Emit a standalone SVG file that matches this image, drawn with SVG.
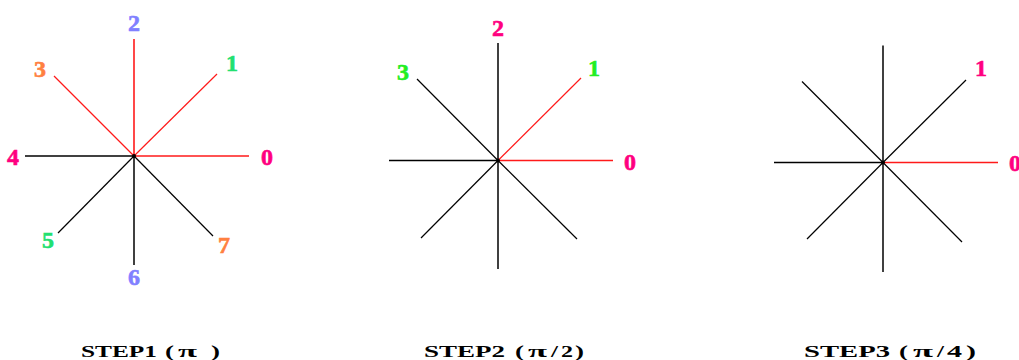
<svg xmlns="http://www.w3.org/2000/svg" width="1019" height="360" viewBox="0 0 1019 360">
<style>
.k{stroke:#000;stroke-width:1.5;fill:none}
.r{stroke:#ff1a1a;stroke-width:1.6;fill:none}
.d{stroke-width:1.2}
.lb{font-family:"Liberation Serif",serif;font-weight:bold;font-size:24px;text-anchor:middle;stroke-width:0.6}
.t{font-family:"Liberation Serif",serif;font-weight:bold;font-size:17px;fill:#000}
.mg{fill:#ff0080;stroke:#ff0080}.bl{fill:#8080ff;stroke:#8080ff}.gr{fill:#22e070;stroke:#22e070}.or{fill:#ff8040;stroke:#ff8040}.g2{fill:#22ee22;stroke:#22ee22}
</style>
<rect width="1019" height="360" fill="#fff"/>
<g id="step1">
  <g id="step1-connectors">
    <line class="k" x1="134" y1="156" x2="25" y2="156"/>
    <line class="k d" x1="134" y1="156" x2="58" y2="233"/>
    <line class="k" x1="134" y1="156" x2="134" y2="265"/>
    <line class="k d" x1="134" y1="156" x2="213" y2="236"/>
    <line class="r" x1="134" y1="156" x2="249" y2="156"/>
    <line class="r d" x1="134" y1="156" x2="217" y2="74"/>
    <line class="r" x1="134" y1="156" x2="134" y2="39"/>
    <line class="r d" x1="134" y1="156" x2="54" y2="76"/>
    <circle cx="134" cy="156" r="2" fill="#000"/>
  </g>
  <text class="lb mg" x="267" y="165">0</text>
  <text class="lb gr" x="232" y="71">1</text>
  <text class="lb bl" x="134" y="31">2</text>
  <text class="lb or" x="40" y="77">3</text>
  <text class="lb mg" x="13" y="165">4</text>
  <text class="lb gr" x="48" y="248">5</text>
  <text class="lb bl" x="134" y="285">6</text>
  <text class="lb or" x="224" y="253">7</text>
  <text class="t" y="357"><tspan x="81" textLength="76" lengthAdjust="spacingAndGlyphs">STEP1</tspan><tspan x="165" textLength="9" lengthAdjust="spacingAndGlyphs">(</tspan><tspan x="178" textLength="19" lengthAdjust="spacingAndGlyphs">π</tspan><tspan x="211" textLength="9" lengthAdjust="spacingAndGlyphs">)</tspan></text>
</g>
<g id="step2">
  <g id="step2-connectors">
    <line class="k" x1="498" y1="160.5" x2="389" y2="160.5"/>
    <line class="k d" x1="498" y1="160.5" x2="421" y2="238"/>
    <line class="k" x1="498" y1="160.5" x2="498" y2="269"/>
    <line class="k d" x1="498" y1="160.5" x2="577" y2="239"/>
    <line class="k" x1="498" y1="160.5" x2="498" y2="43"/>
    <line class="k d" x1="498" y1="160.5" x2="417" y2="79"/>
    <line class="r" x1="498" y1="160.5" x2="613" y2="160.5"/>
    <line class="r d" x1="498" y1="160.5" x2="581" y2="78"/>
    <circle cx="498" cy="160.5" r="2" fill="#000"/>
  </g>
  <text class="lb mg" x="630" y="170">0</text>
  <text class="lb g2" x="594" y="76">1</text>
  <text class="lb mg" x="498" y="36">2</text>
  <text class="lb g2" x="403" y="80">3</text>
  <text class="t" y="357"><tspan x="424" textLength="81" lengthAdjust="spacingAndGlyphs">STEP2</tspan><tspan x="515" textLength="9" lengthAdjust="spacingAndGlyphs">(</tspan><tspan x="528" textLength="19" lengthAdjust="spacingAndGlyphs">π</tspan><tspan x="551" textLength="7" lengthAdjust="spacingAndGlyphs">/</tspan><tspan x="561" textLength="12" lengthAdjust="spacingAndGlyphs">2</tspan><tspan x="575" textLength="9" lengthAdjust="spacingAndGlyphs">)</tspan></text>
</g>
<g id="step3">
  <g id="step3-connectors">
    <line class="k" x1="883" y1="162.5" x2="774" y2="162.5"/>
    <line class="k d" x1="883" y1="162.5" x2="807" y2="239"/>
    <line class="k" x1="883" y1="162.5" x2="883" y2="272"/>
    <line class="k d" x1="883" y1="162.5" x2="962" y2="242"/>
    <line class="k" x1="883" y1="162.5" x2="883" y2="45.5"/>
    <line class="k d" x1="883" y1="162.5" x2="802" y2="81.5"/>
    <line class="k d" x1="883" y1="162.5" x2="966" y2="80"/>
    <line class="r" x1="883" y1="162.5" x2="998" y2="162.5"/>
    <circle cx="883" cy="162.5" r="2" fill="#000"/>
  </g>
  <text class="lb mg" x="1015" y="171">0</text>
  <text class="lb mg" x="981" y="76">1</text>
  <text class="t" y="357"><tspan x="804" textLength="86" lengthAdjust="spacingAndGlyphs">STEP3</tspan><tspan x="899" textLength="9" lengthAdjust="spacingAndGlyphs">(</tspan><tspan x="913" textLength="20" lengthAdjust="spacingAndGlyphs">π</tspan><tspan x="937" textLength="7" lengthAdjust="spacingAndGlyphs">/</tspan><tspan x="947" textLength="15" lengthAdjust="spacingAndGlyphs">4</tspan><tspan x="966" textLength="10" lengthAdjust="spacingAndGlyphs">)</tspan></text>
</g>
</svg>
